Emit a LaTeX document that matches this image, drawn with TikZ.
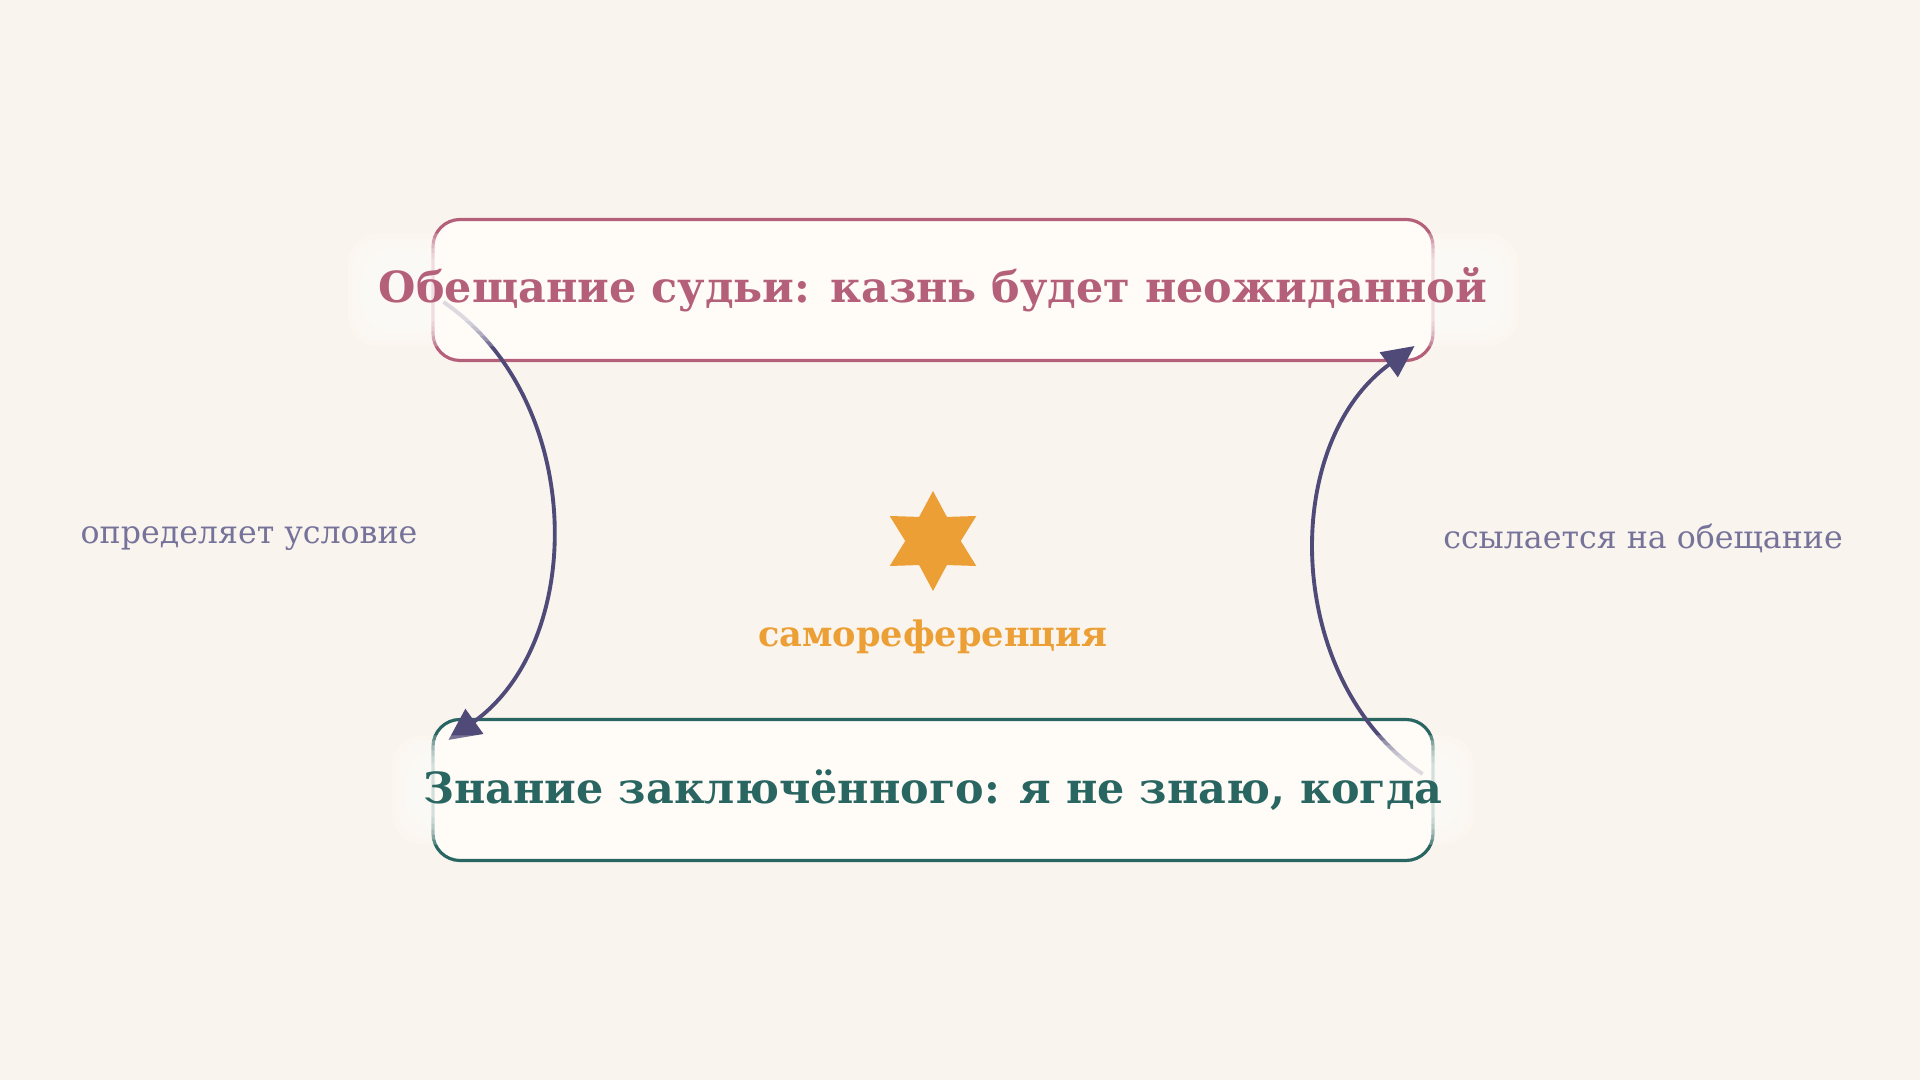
\documentclass[tikz,border=0pt]{standalone}
\usepackage{fontspec}
\setmainfont{DejaVu Serif}
\usetikzlibrary{arrows.meta,shapes.geometric,calc}
\definecolor{bg}{HTML}{FAF4EE}
\definecolor{boxfill}{HTML}{FFFBF7}
\definecolor{halofill}{HTML}{FFFDFA}
\definecolor{judgec}{HTML}{B5607A}
\definecolor{prisonerc}{HTML}{2A6661}
\definecolor{arrowc}{HTML}{4F4A78}
\definecolor{labelc}{HTML}{76739A}
\definecolor{starc}{HTML}{EB9F35}
\pgfdeclarelayer{back}
\pgfdeclarelayer{mid}
\pgfsetlayers{back,mid,main}
\tikzset{
  claim/.style={line width=0.9pt, rounded corners=0.27cm, fill=boxfill,
    minimum width=10cm, minimum height=1.41cm, inner sep=0pt},
  title/.style={font=\bfseries\fontsize{12.2}{14}\selectfont, inner sep=1pt},
  side/.style={font=\fontsize{9}{11}\selectfont, text=labelc, inner sep=1pt},
  loop/.style={draw=arrowc, line width=1.1pt, -{Triangle[length=0.32cm,width=0.3cm]}},
}
\begin{document}
\begin{tikzpicture}
  \useasboundingbox (0,0) rectangle (19.2,10.8);
  % texts
  \node[title, text=judgec] (judge) at (9.33,7.9) {Обещание судьи: казнь будет неожиданной};
  \node[title, text=prisonerc] (prisoner) at (9.33,2.9) {Знание заключённого: я не знаю, когда};
  \node[font=\bfseries\fontsize{10}{12}\selectfont, text=starc, inner sep=1pt] (selfref) at (9.33,4.43) {самореференция};
  \node[side] (cond) at (2.49,5.41) {определяет условие};
  \node[side] (refers) at (16.43,5.42) {ссылается на обещание};
  \begin{pgfonlayer}{back}
    \fill[bg] (0,0) rectangle (19.2,10.8);
    % boxes
    \node[claim, draw=judgec] (judgebox) at (judge) {};
    \node[claim, draw=prisonerc] (prisonerbox) at (prisoner) {};
    \node[star, star points=6, star point ratio=1.8, minimum size=1cm, inner sep=0pt, fill=starc] (spark) at (9.33,5.39) {};
    % loop
    \coordinate (a1) at ($(judgebox.west)+(0.12,-0.12)$);
    \coordinate (a2) at ($(prisonerbox.west)+(0.17,0.5)$);
    \coordinate (b1) at ($(prisonerbox.east)+(-0.12,0.16)$);
    \coordinate (b2) at ($(judgebox.east)+(-0.2,-0.56)$);
    \draw[loop] (a1) to[bend left=55] (a2);
    \draw[loop] (b1) to[bend left=55] (b2);
  \end{pgfonlayer}
  % glow behind the texts
  \begin{pgfonlayer}{mid}
    \foreach \n in {judge,prisoner}
      \foreach \k in {1,...,6}
        \fill[halofill, opacity=0.24, rounded corners=0.3cm]
          ($(\n.south west)+(-\k*0.045,-\k*0.05)$) rectangle ($(\n.north east)+(\k*0.045,\k*0.05)$);
    \foreach \n in {selfref,cond,refers}
      \foreach \k in {1,...,3}
        \fill[halofill, opacity=0.07, rounded corners=0.1cm]
          ($(\n.south west)+(-\k*0.05,-\k*0.05)$) rectangle ($(\n.north east)+(\k*0.05,\k*0.05)$);
  \end{pgfonlayer}
\end{tikzpicture}
\end{document}
